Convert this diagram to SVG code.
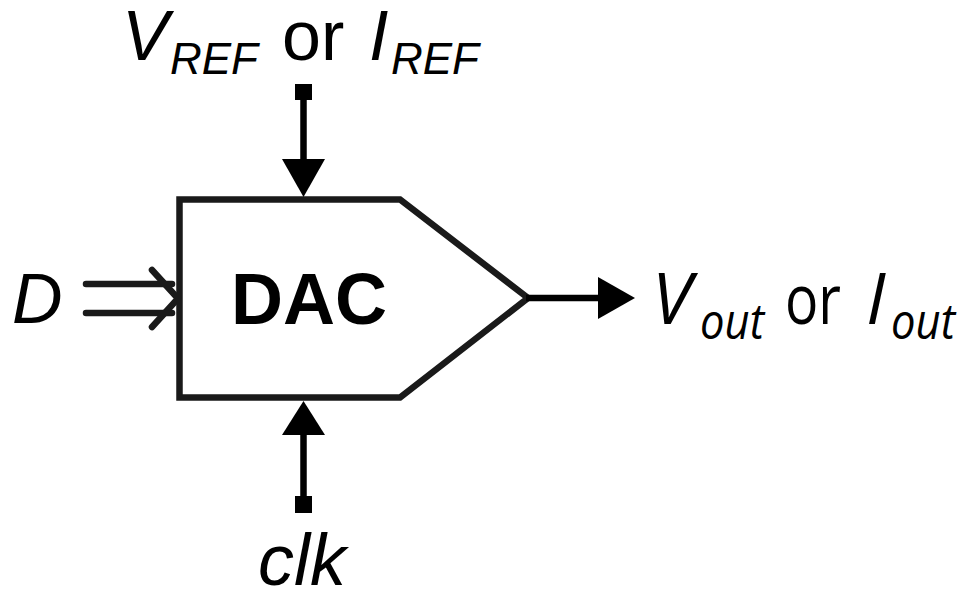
<svg xmlns="http://www.w3.org/2000/svg" width="969" height="589" viewBox="0 0 969 589">
  <style>
    .lbl { font-family: "Liberation Sans", Arial, sans-serif; fill: #000; }
    .it { font-style: italic; }
    .os { font-family: "Open Sans", "Liberation Sans", sans-serif; fill: #000; }
    .body { fill: none; stroke: #1a1a1a; stroke-width: 6.5; stroke-linejoin: miter; }
    .wire { fill: none; stroke: #000; stroke-width: 6.5; }
    .bus { fill: none; stroke: #1a1a1a; stroke-width: 6.5; stroke-linecap: round; stroke-linejoin: round; }
  </style>

  <!-- converter block -->
  <g id="dac">
    <polygon class="body" points="179.5,199.5 400,199.5 528,298 400,397.5 179.5,397.5"/>
    <text class="lbl" x="309" y="324" font-size="72" font-weight="bold" text-anchor="middle">DAC</text>
  </g>

  <!-- terminal labels -->
  <g id="ref">
    <text class="lbl" font-size="70">
      <tspan class="it" x="122" y="60">V</tspan><tspan class="it" x="170" y="74" font-size="44">REF</tspan><tspan x="282" y="60">or</tspan><tspan class="it" x="369" y="60">I</tspan><tspan class="it" x="391" y="74" font-size="44">REF</tspan>
    </text>
  </g>
  <g id="data-in">
    <text class="lbl it" x="12" y="323" font-size="70">D</text>
  </g>
  <g id="clock">
    <text class="lbl it" x="302" y="585" font-size="72" text-anchor="middle">clk</text>
  </g>
  <g id="out">
    <text class="os" font-size="72">
      <tspan class="it" x="652" y="324">V</tspan><tspan class="it" x="700" y="339" font-size="50" textLength="64" lengthAdjust="spacingAndGlyphs">out</tspan><tspan x="785" y="324" font-size="70" textLength="56" lengthAdjust="spacingAndGlyphs">or</tspan><tspan class="it" x="866" y="324">I</tspan><tspan class="it" x="891" y="339" font-size="50" textLength="64" lengthAdjust="spacingAndGlyphs">out</tspan>
    </text>
  </g>

  <!-- connectors -->
  <g id="connectors">
    <!-- reference input -->
    <rect x="295" y="84" width="17" height="16" fill="#000"/>
    <line class="wire" x1="303.5" y1="92" x2="303.5" y2="162"/>
    <polygon points="282,159 325,159 303.5,197" fill="#000"/>
    <!-- clock input -->
    <rect x="295" y="496" width="17" height="17" fill="#000"/>
    <line class="wire" x1="303.5" y1="432" x2="303.5" y2="505"/>
    <polygon points="282,435 325,435 303.5,401" fill="#000"/>
    <!-- output -->
    <line class="wire" x1="526" y1="298" x2="601" y2="298"/>
    <polygon points="598,277 598,319 635,298" fill="#000"/>
    <!-- data bus -->
    <line class="bus" x1="86" y1="284" x2="172" y2="284"/>
    <line class="bus" x1="86" y1="313" x2="172" y2="313"/>
    <polyline class="bus" points="152,270 178,298.5 152,327"/>
  </g>
</svg>
